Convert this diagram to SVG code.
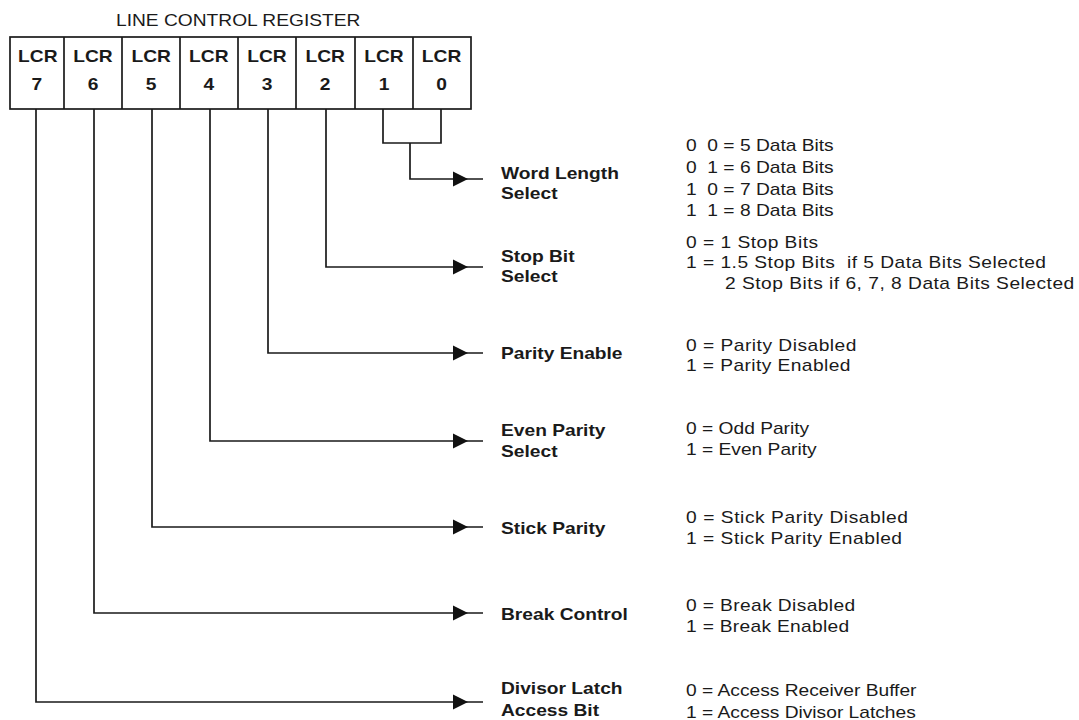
<svg xmlns="http://www.w3.org/2000/svg" width="1079" height="720" viewBox="0 0 1079 720">
<style>
.ln{fill:none;stroke:#1a1a1a;stroke-width:1.7}
.t{font-family:"Liberation Sans",Arial,sans-serif;font-size:16px;fill:#1a1a1a}
.b{font-weight:bold}
.c{text-anchor:middle}
</style>
<defs>
<path id="ah" d="M-15,-7.5 L0,0 L-15,7.5 Z" fill="#111"/>
</defs>
<rect width="1079" height="720" fill="#fff"/>
<g id="register">
<rect class="ln" x="10" y="37" width="461" height="72"/>
<path class="ln" d="M64,37V109M122,37V109M180,37V109M238,37V109M296,37V109M355,37V109M413,37V109"/>
<g class="t" transform="scale(1.2 1)">
<text class="c" x="198.5" y="26">LINE CONTROL REGISTER</text>
<g class="b c">
<text x="31.5" y="62">LCR</text><text x="30.8" y="90">7</text>
<text x="77.5" y="62">LCR</text><text x="77.5" y="90">6</text>
<text x="126" y="62">LCR</text><text x="126" y="90">5</text>
<text x="174" y="62">LCR</text><text x="174" y="90">4</text>
<text x="222.5" y="62">LCR</text><text x="222.5" y="90">3</text>
<text x="271" y="62">LCR</text><text x="271" y="90">2</text>
<text x="320" y="62">LCR</text><text x="320" y="90">1</text>
<text x="368" y="62">LCR</text><text x="368" y="90">0</text>
</g>
</g>
</g>
<g id="connectors">
<path class="ln" d="M383,109V143H441V109M410,143V179H483"/>
<path class="ln" d="M326,109V267H483"/>
<path class="ln" d="M268,109V353H483"/>
<path class="ln" d="M210,109V441H483"/>
<path class="ln" d="M152,109V527H483"/>
<path class="ln" d="M94,109V613H483"/>
<path class="ln" d="M36,109V702H483"/>
<use href="#ah" x="468" y="179"/>
<use href="#ah" x="468" y="267"/>
<use href="#ah" x="468" y="353"/>
<use href="#ah" x="468" y="441"/>
<use href="#ah" x="468" y="527"/>
<use href="#ah" x="468" y="613"/>
<use href="#ah" x="468" y="702"/>
</g>
<g id="word-length" class="t" transform="scale(1.2 1)">
<text class="b" x="417.5" y="179">Word Length</text>
<text class="b" x="417.5" y="199.5">Select</text>
<text x="571.7" y="151" xml:space="preserve">0  0 = 5 Data Bits</text>
<text x="571.7" y="173" xml:space="preserve">0  1 = 6 Data Bits</text>
<text x="571.7" y="195" xml:space="preserve">1  0 = 7 Data Bits</text>
<text x="571.7" y="216" xml:space="preserve">1  1 = 8 Data Bits</text>
</g>
<g id="stop-bit" class="t" transform="scale(1.2 1)">
<text class="b" x="417.5" y="262">Stop Bit</text>
<text class="b" x="417.5" y="282">Select</text>
<text x="571.7" y="248" textLength="110">0 = 1 Stop Bits</text>
<text x="571.7" y="268.5" xml:space="preserve" textLength="300">1 = 1.5 Stop Bits  if 5 Data Bits Selected</text>
<text x="604.2" y="289" textLength="291">2 Stop Bits if 6, 7, 8 Data Bits Selected</text>
</g>
<g id="parity-enable" class="t" transform="scale(1.2 1)">
<text class="b" x="417.5" y="359">Parity Enable</text>
<text x="571.7" y="351" textLength="142">0 = Parity Disabled</text>
<text x="571.7" y="371" textLength="137">1 = Parity Enabled</text>
</g>
<g id="even-parity" class="t" transform="scale(1.2 1)">
<text class="b" x="417.5" y="436">Even Parity</text>
<text class="b" x="417.5" y="457">Select</text>
<text x="571.7" y="434.5">0 = Odd Parity</text>
<text x="571.7" y="455">1 = Even Parity</text>
</g>
<g id="stick-parity" class="t" transform="scale(1.2 1)">
<text class="b" x="417.5" y="534">Stick Parity</text>
<text x="571.7" y="523.5" textLength="185">0 = Stick Parity Disabled</text>
<text x="571.7" y="544" textLength="180">1 = Stick Parity Enabled</text>
</g>
<g id="break-control" class="t" transform="scale(1.2 1)">
<text class="b" x="417.5" y="620">Break Control</text>
<text x="571.7" y="611" textLength="141">0 = Break Disabled</text>
<text x="571.7" y="632" textLength="136">1 = Break Enabled</text>
</g>
<g id="divisor-latch" class="t" transform="scale(1.2 1)">
<text class="b" x="417.5" y="694">Divisor Latch</text>
<text class="b" x="417.5" y="716">Access Bit</text>
<text x="571.7" y="696">0 = Access Receiver Buffer</text>
<text x="571.7" y="718">1 = Access Divisor Latches</text>
</g>
</svg>
